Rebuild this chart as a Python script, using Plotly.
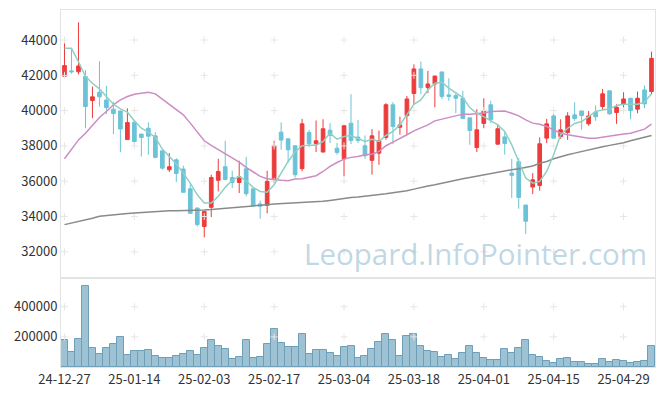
import plotly.graph_objects as go

dates = [
    "24-12-27", "24-12-30", "25-01-02", "25-01-03", "25-01-06", "25-01-07", "25-01-08", "25-01-09", "25-01-10", "25-01-13",
    "25-01-14", "25-01-15", "25-01-16", "25-01-17", "25-01-20", "25-01-21", "25-01-22", "25-01-23", "25-01-24", "25-01-31",
    "25-02-03", "25-02-04", "25-02-05", "25-02-06", "25-02-07", "25-02-10", "25-02-11", "25-02-12", "25-02-13", "25-02-14",
    "25-02-17", "25-02-18", "25-02-19", "25-02-20", "25-02-21", "25-02-24", "25-02-25", "25-02-26", "25-02-27", "25-02-28",
    "25-03-04", "25-03-05", "25-03-06", "25-03-07", "25-03-10", "25-03-11", "25-03-12", "25-03-13", "25-03-14", "25-03-17",
    "25-03-18", "25-03-19", "25-03-20", "25-03-21", "25-03-24", "25-03-25", "25-03-26", "25-03-27", "25-03-28", "25-03-31",
    "25-04-01", "25-04-02", "25-04-03", "25-04-04", "25-04-07", "25-04-08", "25-04-09", "25-04-10", "25-04-11", "25-04-14",
    "25-04-15", "25-04-16", "25-04-17", "25-04-18", "25-04-21", "25-04-22", "25-04-23", "25-04-24", "25-04-25", "25-04-28",
    "25-04-29", "25-04-30", "25-05-02", "25-05-07", "25-05-08",
]

open_ = [41950, 42250, 42200, 41930, 40570, 41040, 40600, 40080, 39980, 38360,
         39340, 38670, 39000, 38570, 37720, 36650, 37210, 36690, 35570, 34480,
         33430, 34520, 36050, 36820, 36210, 35930, 36700, 35570, 34710, 34630,
         36140, 38780, 38400, 38010, 36710, 38760, 38120, 37650, 38890, 37870,
         37270, 39290, 38500, 38010, 37180, 37590, 38480, 40330, 39060, 39720,
         40970, 42360, 41300, 41510, 42190, 40890, 40850, 40700, 39590, 37910,
         39270, 40330, 38100, 38510, 36460, 37100, 34650, 35670, 35760, 38440,
         39700, 38530, 38760, 39760, 39980, 39250, 39910, 40230, 41120, 39890,
         40360, 40700, 40080, 41170, 41080]
high = [43950, 43550, 45000, 42300, 41360, 42800, 41400, 40500, 39980, 40130,
        39480, 38670, 39340, 38780, 37720, 37590, 37300, 36880, 35900, 34500,
        34300, 36370, 37270, 38290, 36590, 37160, 37380, 35570, 34900, 36590,
        38290, 39330, 38400, 38010, 39530, 38910, 39440, 39510, 39290, 38160,
        39190, 40930, 39460, 38590, 38950, 38870, 40420, 40480, 39660, 40830,
        42620, 42780, 42250, 41960, 42190, 41830, 41040, 41120, 39590, 40080,
        40700, 40550, 39230, 38780, 37270, 37310, 34650, 36460, 38480, 39530,
        39800, 39510, 39910, 40470, 39980, 39980, 40290, 41230, 41120, 40360,
        41040, 40700, 41080, 41420, 43340]
low = [41950, 42100, 42050, 39000, 39570, 40230, 39800, 38660, 37640, 38360,
       37970, 37400, 37500, 37300, 36650, 36520, 35950, 35370, 34180, 33430,
       32820, 33970, 35420, 36050, 35610, 35330, 35140, 34580, 33880, 34180,
       35900, 37780, 37030, 36210, 36560, 37930, 37650, 37650, 38160, 37500,
       36270, 38100, 38160, 37270, 36370, 36930, 38350, 38100, 38630, 38630,
       40330, 40930, 40990, 40190, 40650, 40550, 39850, 39550, 38060, 37650,
       39000, 39290, 38060, 37500, 35050, 34440, 33010, 35270, 35460, 38160,
       38440, 38400, 38340, 39420, 38910, 39140, 39420, 40040, 39760, 39250,
       39950, 39510, 39850, 40140, 40930]
close = [42550, 42200, 42530, 40230, 40780, 40780, 40170, 39830, 38960, 39320,
         38250, 38480, 38550, 37350, 36740, 36820, 36440, 35370, 34180, 33540,
         34290, 36210, 36550, 36100, 35930, 36250, 35290, 34610, 34580, 35990,
         38010, 38330, 37780, 36370, 39250, 38120, 38290, 38970, 38590, 37630,
         39140, 38310, 38310, 37440, 38570, 38290, 40330, 39100, 39190, 40660,
         42360, 41300, 41510, 41960, 40800, 40800, 40700, 39550, 38870, 38910,
         39980, 39480, 38970, 38140, 36330, 35080, 33730, 36080, 38120, 39250,
         38440, 38910, 39700, 39550, 39720, 39700, 39650, 40950, 39820, 40190,
         40660, 40000, 40700, 40380, 42960]
volume = [176800, 97200, 187900, 534800, 128200, 84000, 128200, 154700, 201100, 77400,
          103900, 103900, 114900, 70700, 57500, 61900, 75100, 84000, 103900, 77400,
          123800, 176800, 137000, 117100, 50800, 68500, 181200, 57500, 64100, 150300,
          254200, 156900, 134800, 134800, 216600, 88400, 110500, 110500, 90600, 70700,
          130400, 137000, 57500, 70700, 117100, 163500, 216600, 176800, 70700, 203300,
          216600, 141400, 103900, 97200, 64100, 77400, 50800, 90600, 137000, 90600,
          61900, 44200, 44200, 117100, 90600, 123800, 181200, 77400, 64100, 37600,
          24300, 50800, 57500, 30900, 30900, 17700, 17700, 50800, 30900, 44200,
          39800, 24300, 30900, 37600, 141400]
ma_short = [43530, 43530, 42770, 41930, 41550, 41230, 40800, 40360, 40100, 39910,
            39420, 39000, 38780, 38480, 37820, 37400, 36970, 36460, 35890, 35230,
            34760, 34760, 35140, 35650, 36050, 36270, 36020, 35650, 35420, 35370,
            35800, 36460, 37120, 37650, 38010, 38030, 38030, 38250, 38720, 38380,
            38530, 38590, 38440, 38250, 38380, 38250, 38590, 38820, 39190, 39760,
            40360, 40610, 41170, 41550, 41610, 41270, 40980, 40740, 40170, 39850,
            39660, 39440, 39190, 38820, 38060, 37120, 36180, 35890, 35990, 36550,
            37500, 38630, 39000, 39270, 39380, 39660, 39950, 40040, 40100, 40290,
            40360, 40360, 40360, 40480, 40950]
ma_mid = [37270, 37780, 38340, 38720, 39190, 39610, 39950, 40330, 40610, 40800,
          40930, 41000, 41040, 40950, 40660, 40360, 40100, 39760, 39290, 38820,
          38290, 38030, 37780, 37530, 37310, 37080, 36780, 36520, 36270, 36140,
          36080, 36060, 36030, 36120, 36140, 36210, 36310, 36550, 36840, 37060,
          37250, 37350, 37400, 37500, 37530, 37690, 38010, 38210, 38440, 38630,
          38850, 39000, 39190, 39420, 39510, 39610, 39720, 39800, 39800, 39830,
          39870, 39950, 39980, 39980, 39850, 39700, 39470, 39290, 39230, 39100,
          38910, 38720, 38630, 38570, 38500, 38440, 38440, 38510, 38570, 38630,
          38680, 38720, 38820, 38950, 39230]
ma_long = [33540, 33620, 33700, 33790, 33900, 34010, 34060, 34100, 34140, 34170,
           34200, 34230, 34260, 34280, 34300, 34320, 34330, 34330, 34330, 34350,
           34370, 34390, 34420, 34460, 34500, 34540, 34580, 34590, 34630, 34670,
           34710, 34730, 34760, 34780, 34780, 34780, 34800, 34860, 34910, 34970,
           35030, 35070, 35100, 35140, 35200, 35250, 35290, 35350, 35400, 35460,
           35550, 35650, 35730, 35800, 35890, 35990, 36060, 36140, 36210, 36290,
           36370, 36440, 36520, 36590, 36650, 36700, 36780, 36860, 37020, 37120,
           37270, 37400, 37500, 37590, 37690, 37780, 37880, 37950, 38030, 38100,
           38180, 38290, 38380, 38480, 38590]

price_ticks = [32000, 34000, 36000, 38000, 40000, 42000, 44000]
volume_ticks = [200000, 400000]
label_step = 10

idx = list(range(len(dates)))
tick_idx = idx[::label_step]
tick_text = [dates[i] for i in tick_idx]

UP = "#ee3b3b"
DOWN = "#6cc3d7"
GRID = "#e6e6e6"
FONT = "Noto Sans CJK KR"

fig = go.Figure()

# grid "+" markers at tick intersections
gx, gy = [], []
for tx in tick_idx:
    for ty in price_ticks:
        gx.append(tx); gy.append(ty)
fig.add_trace(go.Scatter(x=gx, y=gy, mode="markers", hoverinfo="skip", showlegend=False,
                         marker=dict(symbol="cross-thin", size=5, line=dict(color=GRID, width=1)),
                         xaxis="x", yaxis="y"))
vx, vy = [], []
for tx in tick_idx:
    for ty in volume_ticks:
        vx.append(tx); vy.append(ty)
fig.add_trace(go.Scatter(x=vx, y=vy, mode="markers", hoverinfo="skip", showlegend=False,
                         marker=dict(symbol="cross-thin", size=5, line=dict(color=GRID, width=1)),
                         xaxis="x2", yaxis="y2"))

fig.add_trace(go.Scatter(x=idx, y=ma_long, mode="lines", line=dict(color="#8a8a8a", width=1.5),
                         showlegend=False, xaxis="x", yaxis="y"))
fig.add_trace(go.Scatter(x=idx, y=ma_mid, mode="lines", line=dict(color="#cc8cc4", width=1.5),
                         showlegend=False, xaxis="x", yaxis="y"))
fig.add_trace(go.Scatter(x=idx, y=ma_short, mode="lines", line=dict(color="#8fd0c4", width=1.5),
                         showlegend=False, xaxis="x", yaxis="y"))

fig.add_trace(go.Candlestick(
    x=idx, open=open_, high=high, low=low, close=close,
    increasing=dict(line=dict(color=UP, width=1), fillcolor=UP),
    decreasing=dict(line=dict(color=DOWN, width=1), fillcolor=DOWN),
    whiskerwidth=0, showlegend=False, xaxis="x", yaxis="y"))

fig.add_trace(go.Bar(x=idx, y=volume, marker=dict(color="#9cc2d4", line=dict(color="#6f9fb8", width=1)),
                     showlegend=False, xaxis="x2", yaxis="y2"))

split = 89 / 357
axis_common = dict(showgrid=False, zeroline=False, showline=True, linecolor="#e4e4e4",
                   linewidth=1, mirror=True, ticks="",
                   tickfont=dict(family=FONT, size=13, color="#333333"))

# the page body has an 8px default margin, so the figure is sized to fit the window
fig.update_layout(
    width=657, height=388,
    margin=dict(l=53, r=10, t=2, b=29),
    paper_bgcolor="white", plot_bgcolor="white",
    bargap=0,
    boxgap=0.25,
    showlegend=False,
    xaxis=dict(domain=[0, 1], anchor="y", range=[-0.5, 84.5], tickvals=tick_idx, ticktext=tick_text,
               showticklabels=False, rangeslider=dict(visible=False), **axis_common),
    yaxis=dict(domain=[split, 1], anchor="x", range=[30515, 45700], tickvals=price_ticks,
               tickformat="d", **axis_common),
    xaxis2=dict(domain=[0, 1], anchor="y2", range=[-0.5, 84.5], tickvals=tick_idx, ticktext=tick_text,
                matches="x", **axis_common),
    yaxis2=dict(domain=[0, split], anchor="x2", range=[0, 591000], tickvals=volume_ticks,
                tickformat="d", **axis_common),
    annotations=[dict(text="Leopard.InfoPointer.com", xref="paper", yref="paper", x=0.697, y=0.319,
                      xanchor="center", yanchor="middle", showarrow=False,
                      font=dict(family="Open Sans", size=29.5, color="rgba(150,188,210,0.6)"))],
)

fig.write_html("out.html")
